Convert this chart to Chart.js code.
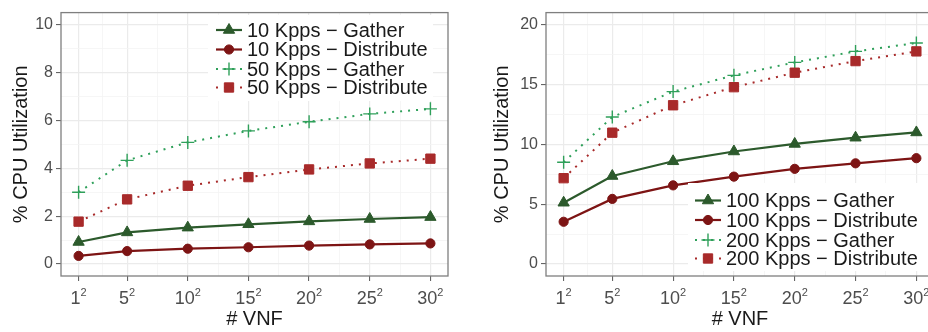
<!DOCTYPE html>
<html>
<head>
    <title>CPU Utilization vs number of VNFs</title>
    <script src="https://cdn.jsdelivr.net/npm/chart.js"></script>
    <style>
        html, body {
            margin: 0;
            padding: 0;
            background: #fff;
            width: 928px;
            height: 332px;
            overflow: hidden;
        }
        .panel {
            position: absolute;
            top: 0;
        }
    </style>
</head>
<body>
    <div class="panel" style="left:0"><canvas id="lowRate" width="460" height="332"></canvas></div>
    <div class="panel" style="left:468px"><canvas id="highRate" width="480" height="332"></canvas></div>

    <script>
        // square root of the VNF count (x axis shows n^2)
        const vnfRoots = [1, 5, 10, 15, 20, 25, 30];
        const vnfLabels = ['1', '5', '10', '15', '20', '25', '30'];
        const vnfExponent = '2';

        // low traffic rates
        const gather10 = [0.92, 1.32, 1.52, 1.66, 1.78, 1.88, 1.96];
        const distribute10 = [0.34, 0.54, 0.64, 0.70, 0.77, 0.82, 0.86];
        const gather50 = [3.0, 4.33, 5.08, 5.56, 5.94, 6.27, 6.48];
        const distribute50 = [1.77, 2.70, 3.27, 3.63, 3.95, 4.20, 4.40];

        // high traffic rates
        const gather100 = [5.12, 7.35, 8.58, 9.40, 10.03, 10.55, 10.99];
        const distribute100 = [3.53, 5.44, 6.57, 7.30, 7.95, 8.41, 8.84];
        const gather200 = [8.5, 12.28, 14.40, 15.76, 16.84, 17.76, 18.46];
        const distribute200 = [7.17, 10.97, 13.26, 14.77, 15.98, 16.95, 17.76];

        const lowNames = ['10 Kpps \u2212 Gather', '10 Kpps \u2212 Distribute', '50 Kpps \u2212 Gather', '50 Kpps \u2212 Distribute'];
        const highNames = ['100 Kpps \u2212 Gather', '100 Kpps \u2212 Distribute', '200 Kpps \u2212 Gather', '200 Kpps \u2212 Distribute'];

        const FONT = '"Liberation Sans", Arial, sans-serif';

        const styles = [
            { color: '#2c5a2c', dash: [], pointStyle: 'triangle', radius: 6.5, width: 2.2 },
            { color: '#7d1414', dash: [], pointStyle: 'circle', radius: 4.6, width: 2.2 },
            { color: '#2fa05a', dash: [2, 6], pointStyle: 'cross', radius: 6.5, width: 2 },
            { color: '#a82a2a', dash: [2, 6], pointStyle: 'rect', radius: 6.6, width: 2 }
        ];

        function makeDatasets(names, series) {
            return series.map((vals, i) => {
                const s = styles[i];
                return {
                    label: names[i],
                    data: vnfRoots.map((x, j) => ({ x: x, y: vals[j] })),
                    borderColor: s.color,
                    backgroundColor: s.color,
                    borderWidth: s.width,
                    borderDash: s.dash,
                    pointStyle: s.pointStyle,
                    pointRadius: s.radius,
                    pointBorderWidth: s.pointStyle === 'cross' ? 1.4 : 1,
                    pointBorderColor: s.color,
                    pointBackgroundColor: s.color,
                    tension: 0,
                    order: 3 - i
                };
            });
        }

        // full panel frame, like ggplot's theme_bw
        const panelFrame = {
            id: 'panelFrame',
            afterDatasetsDraw(chart) {
                const a = chart.chartArea;
                const ctx = chart.ctx;
                ctx.save();
                ctx.strokeStyle = '#7f7f7f';
                ctx.lineWidth = 1.3;
                ctx.strokeRect(a.left, a.top, a.right - a.left, a.bottom - a.top);
                ctx.restore();
            }
        };

        // x tick labels with a raised exponent, centred as a whole under each tick
        const powerLabels = {
            id: 'powerLabels',
            afterDraw(chart) {
                const ctx = chart.ctx;
                const xs = chart.scales.x;
                const baseY = chart.chartArea.bottom + 28;
                ctx.save();
                ctx.fillStyle = '#4d4d4d';
                ctx.textBaseline = 'alphabetic';
                ctx.textAlign = 'left';
                vnfRoots.forEach((v, i) => {
                    const px = xs.getPixelForValue(v);
                    ctx.font = '18px ' + FONT;
                    const wBase = ctx.measureText(vnfLabels[i]).width;
                    ctx.font = '11px ' + FONT;
                    const wExp = ctx.measureText(vnfExponent).width;
                    const x0 = px - (wBase + wExp) / 2;
                    ctx.font = '18px ' + FONT;
                    ctx.fillText(vnfLabels[i], x0, baseY);
                    ctx.font = '11px ' + FONT;
                    ctx.fillText(vnfExponent, x0 + wBase, baseY - 8.5);
                });
                ctx.restore();
            }
        };

        // legend drawn inside the plotting area
        const insideLegend = {
            id: 'insideLegend',
            afterDatasetsDraw(chart, args, opts) {
                const ctx = chart.ctx;
                ctx.save();
                ctx.fillStyle = '#fff';
                ctx.fillRect(opts.box[0], opts.box[1], opts.box[2], opts.box[3]);
                chart.data.datasets.forEach((ds, i) => {
                    const y = opts.rows[i];
                    ctx.strokeStyle = ds.borderColor;
                    ctx.lineWidth = ds.borderWidth;
                    ctx.setLineDash(ds.borderDash);
                    ctx.beginPath();
                    ctx.moveTo(opts.keyX - 13, y);
                    ctx.lineTo(opts.keyX + 13, y);
                    ctx.stroke();
                    ctx.setLineDash([]);
                    ctx.fillStyle = ds.pointBackgroundColor;
                    ctx.lineWidth = ds.pointBorderWidth;
                    Chart.helpers.drawPoint(ctx, {
                        pointStyle: ds.pointStyle,
                        radius: ds.pointRadius,
                        rotation: 0,
                        borderWidth: ds.pointBorderWidth
                    }, opts.keyX, y);
                    ctx.fillStyle = '#1a1a1a';
                    ctx.font = '20px ' + FONT;
                    ctx.textBaseline = 'middle';
                    ctx.textAlign = 'left';
                    ctx.fillText(ds.label, opts.textX, y + 1);
                });
                ctx.restore();
            }
        };

        function buildChart(canvasId, names, series, yRange, yMajor, yMinor, legendOpts, rightPad, yWidth, yTitlePad) {
            const xMinor = [3, 7.5, 12.5, 17.5, 22.5, 27.5];
            const isMajorX = v => vnfRoots.includes(v);
            const isMajorY = v => yMajor.includes(v);

            return new Chart(document.getElementById(canvasId), {
                type: 'line',
                data: { datasets: makeDatasets(names, series) },
                plugins: [panelFrame, insideLegend, powerLabels],
                options: {
                    responsive: false,
                    animation: false,
                    layout: { padding: { left: 0, top: 5, right: rightPad, bottom: 0 } },
                    plugins: {
                        legend: { display: false },
                        tooltip: { enabled: false },
                        insideLegend: legendOpts
                    },
                    scales: {
                        x: {
                            type: 'linear',
                            min: -0.45,
                            max: 31.45,
                            afterBuildTicks: s => {
                                s.ticks = vnfRoots.concat(xMinor).sort((a, b) => a - b).map(v => ({ value: v }));
                            },
                            afterFit: s => { s.height = 56; },
                            border: { display: false },
                            grid: {
                                color: c => isMajorX(c.tick.value) ? '#ebebeb' : '#f4f4f4',
                                lineWidth: c => isMajorX(c.tick.value) ? 1.2 : 0.8,
                                tickLength: 5,
                                tickColor: c => isMajorX(c.tick.value) ? '#555' : 'rgba(0,0,0,0)',
                                tickWidth: 1
                            },
                            ticks: {
                                autoSkip: false,
                                maxRotation: 0,
                                callback: () => ''
                            },
                            title: {
                                display: true,
                                text: '# VNF',
                                color: '#1a1a1a',
                                font: { family: FONT, size: 20 },
                                padding: { top: 0, bottom: 1 }
                            }
                        },
                        y: {
                            min: yRange[0],
                            max: yRange[1],
                            afterBuildTicks: s => {
                                s.ticks = yMajor.concat(yMinor).sort((a, b) => a - b).map(v => ({ value: v }));
                            },
                            afterFit: s => { s.width = yWidth; },
                            border: { display: false },
                            grid: {
                                color: c => isMajorY(c.tick.value) ? '#ebebeb' : '#f4f4f4',
                                lineWidth: c => isMajorY(c.tick.value) ? 1.2 : 0.8,
                                tickLength: 5,
                                tickColor: c => isMajorY(c.tick.value) ? '#555' : 'rgba(0,0,0,0)',
                                tickWidth: 1
                            },
                            ticks: {
                                autoSkip: false,
                                padding: 3,
                                color: '#4d4d4d',
                                font: { family: FONT, size: 16 },
                                callback: v => isMajorY(v) ? String(v) : ''
                            },
                            title: {
                                display: true,
                                text: '% CPU Utilization',
                                color: '#1a1a1a',
                                font: { family: FONT, size: 20 },
                                padding: { top: yTitlePad, bottom: 0 }
                            }
                        }
                    }
                }
            });
        }

        buildChart('lowRate', lowNames, [gather10, distribute10, gather50, distribute50],
            [-0.5, 10.5], [0, 2, 4, 6, 8, 10], [1, 3, 5, 7, 9],
            { box: [208, 15, 225, 86], rows: [30, 49.5, 69, 87.5], keyX: 229, textX: 247 },
            12, 61, 9);

        buildChart('highRate', highNames, [gather100, distribute100, gather200, distribute200],
            [-1, 21], [0, 5, 10, 15, 20], [2.5, 7.5, 12.5, 17.5],
            { box: [220, 183, 240, 88], rows: [200.5, 220, 240, 258.5], keyX: 240, textX: 258 },
            14, 78, 22);
    </script>
</body>
</html>
